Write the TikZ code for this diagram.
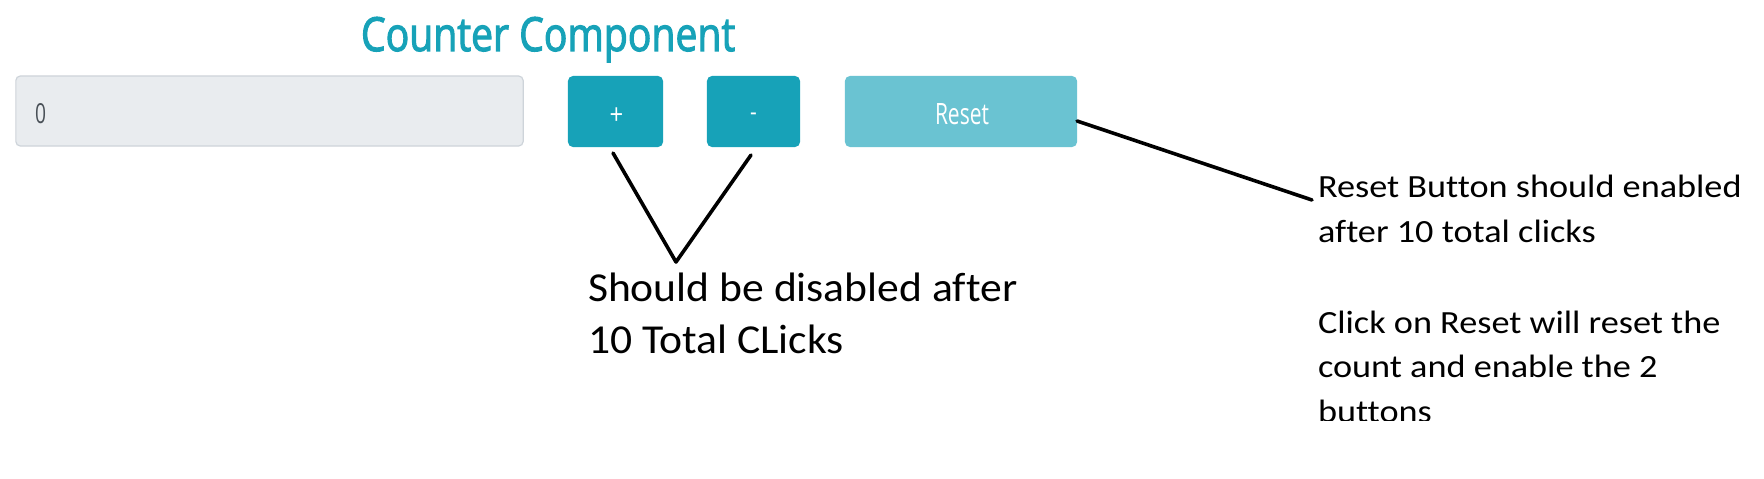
\documentclass[tikz,border=0pt]{standalone}
\usepackage{fontspec}
\setmainfont[Ligatures=NoCommon]{Carlito}
\newfontfamily\uifont[FakeStretch=0.85]{Open Sans}
\newfontfamily\titlefont[FakeBold=2.5]{Open Sans}
\definecolor{info}{HTML}{17A2B8}
\definecolor{infolight}{HTML}{6AC3D2}
\definecolor{inputbg}{HTML}{E9ECEF}
\definecolor{inputbd}{HTML}{CED4DA}
\definecolor{inputtx}{HTML}{495057}
\newcommand{\lwide}[1]{\scalebox{1.06}[1]{#1}}
\newcommand{\rwide}[1]{\scalebox{1.12}[1]{#1}}
\begin{document}
\begin{tikzpicture}[x=0.01cm,y=-0.01cm,
  btn/.style={fill=info, draw=none, rounded corners=0.05cm, minimum height=0.71cm, inner sep=0, outer sep=0},
  btnoff/.style={btn, fill=infolight},
  inputbox/.style={fill=inputbg, draw=inputbd, line width=0.012cm, rounded corners=0.045cm, minimum width=5.07cm, minimum height=0.70cm, inner sep=0, outer sep=0},
  lbl/.style={inner sep=0, outer sep=0},
  conn/.style={draw=black, line width=0.036cm, line cap=round},
  lefttxt/.style={lbl, anchor=base west, font=\fontsize{11.7pt}{14pt}\selectfont},
  righttxt/.style={lbl, anchor=base west, font=\fontsize{9.2pt}{11pt}\selectfont}]
\fill[white] (0,0) rectangle (1764,479);
\useasboundingbox (0,0) rectangle (1764,479);
% title
\node[lbl, anchor=base west, text=info] (title) at (361,51) {\resizebox{3.74cm}{0.34cm}{\titlefont Counter Component}};
% controls
\node[inputbox] (input) at (269.5,111) {};
\node[lbl, anchor=base west, text=inputtx] (zero) at (35,124) {\resizebox{0.11cm}{0.20cm}{\uifont 0}};
\node[btn, minimum width=0.95cm] (plus) at (615.5,111.5) {};
\node[btn, minimum width=0.93cm] (minus) at (753.5,111.5) {};
\node[btnoff, minimum width=2.32cm] (reset) at (961,111.5) {};
\node[lbl, text=white, font=\uifont\fontsize{8pt}{9pt}\selectfont] (plustxt) at (616.5,116.5) {+};
\node[lbl, text=white, font=\uifont\fontsize{7pt}{9pt}\selectfont] (minustxt) at (753.5,117) {-};
\node[lbl, anchor=base, text=white] (resettxt) at (962,125) {\resizebox{0.54cm}{0.21cm}{\uifont Reset}};
% connectors
\coordinate (vtip) at (676,262);
\coordinate (rtip) at (1312,200);
\draw[conn, line join=round] ([xshift=-0.025cm,yshift=-0.06cm]plus.south) -- (vtip) -- ([xshift=-0.025cm,yshift=-0.08cm]minus.south);
\draw[conn] ([yshift=-0.095cm]reset.east) -- (rtip);
% annotations
\node[lefttxt] (d1) at (588,301) {\lwide{Should be disabled after}};
\node[lefttxt] (d2) at (588,353) {\lwide{10 Total CLicks}};
\node[righttxt] (r1) at (1318,197) {\rwide{Reset Button should enabled}};
\node[righttxt] (r2) at (1318,242) {\rwide{after 10 total clicks}};
\node[righttxt] (r3) at (1318,333) {\rwide{Click on Reset will reset the}};
\node[righttxt] (r4) at (1318,377) {\rwide{count and enable the 2}};
\begin{scope}
\clip (1300,380) rectangle (1764,420);
\node[righttxt] (r5) at (1318,422) {\rwide{buttons}};
\end{scope}
\end{tikzpicture}
\end{document}
